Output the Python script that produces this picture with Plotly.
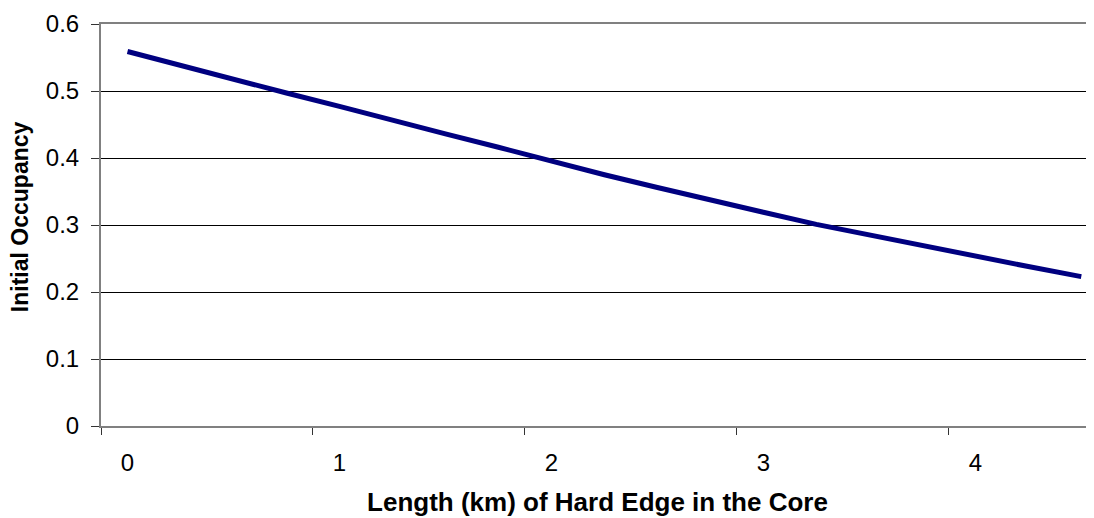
import plotly.graph_objects as go

# hard edge length (km) and initial occupancy
edge_km = [0, 0.25, 0.5, 0.75, 1.0, 1.25, 1.5, 1.75, 2.0, 2.25,
           2.5, 2.75, 3.0, 3.25, 3.5, 3.75, 4.0, 4.25, 4.5]
occupancy = [0.559, 0.538, 0.518, 0.497, 0.477, 0.456, 0.436, 0.416, 0.395, 0.375,
             0.356, 0.337, 0.319, 0.301, 0.285, 0.269, 0.253, 0.238, 0.223]

x_labels = [0, 1, 2, 3, 4]
x_tick_marks = [-0.125, 0.875, 1.875, 2.875, 3.875]
y_ticks = [0, 0.1, 0.2, 0.3, 0.4, 0.5, 0.6]

font = "Liberation Sans, Arial, sans-serif"

fig = go.Figure()
fig.add_trace(go.Scatter(x=edge_km, y=occupancy, mode="lines",
                         line=dict(color="#000080", width=5),
                         showlegend=False, hoverinfo="skip"))

# page body has an 8px margin, so the figure is a bit smaller than the window
fig.update_layout(
    width=1086, height=510,
    paper_bgcolor="white", plot_bgcolor="white",
    margin=dict(l=93, r=0, t=16, b=92),
    font=dict(family=font, color="black", size=24),
)
fig.update_xaxes(
    range=[-0.125, 4.56],
    tickmode="array", tickvals=x_labels, ticktext=[str(v) for v in x_labels],
    ticks="", ticklabelstandoff=14,
    minor=dict(tickmode="array", tickvals=x_tick_marks, ticks="outside",
               ticklen=7, tickwidth=1, tickcolor="#333333"),
    showgrid=False, zeroline=False,
    showline=True, linecolor="#808080", linewidth=2, mirror=True,
    title=dict(text="<b>Length (km) of Hard Edge in the Core</b>",
               font=dict(size=26), standoff=18),
)
fig.update_yaxes(
    range=[0, 0.6],
    tickmode="array", tickvals=y_ticks, ticktext=[f"{v:g}" for v in y_ticks],
    ticks="outside", ticklen=8, tickwidth=1, tickcolor="#333333",
    ticklabelstandoff=7,
    showgrid=True, gridcolor="black", gridwidth=1, zeroline=False,
    showline=True, linecolor="#808080", linewidth=2,
)
# y title sits a little above the plot's middle in the original
fig.add_annotation(text="<b>Initial Occupancy</b>", textangle=-90,
                   xref="paper", yref="paper", x=-0.0816, y=0.522,
                   xanchor="center", yanchor="middle", showarrow=False,
                   font=dict(size=23))

fig.write_html("out.html")
